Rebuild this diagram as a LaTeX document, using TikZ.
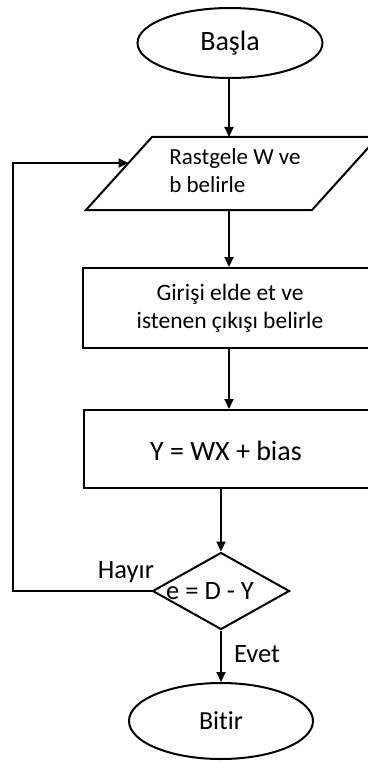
\documentclass[tikz,border=0pt]{standalone}
\usepackage{fontspec}
\setmainfont{Carlito}[Ligatures=NoCommon]
\usetikzlibrary{shapes.geometric,arrows.meta}
\newcommand{\fs}[1]{\fontsize{#1}{28}\selectfont}
\begin{document}
\begin{tikzpicture}[x=1pt,y=-1pt,
  line width=2pt,
  arr/.style={-{Triangle[length=10pt,width=9pt]}},
  term/.style={draw,ellipse,inner sep=0pt},
  box/.style={draw,rectangle,inner sep=0pt},
  dia/.style={draw,diamond,inner sep=0pt},
  lbl/.style={inner sep=0pt}]
\useasboundingbox (0,0) rectangle (367,762);
% start
\node[term,minimum width=185pt,minimum height=70pt,font=\fs{28}] (start) at (230,43) {Başla};
% parallelogram
\coordinate (pA) at (152,137);
\coordinate (pB) at (378,137);
\coordinate (pC) at (312,210);
\coordinate (pD) at (86,210);
\draw (pA) -- (pB) -- (pC) -- (pD) -- cycle;
\coordinate (ptop) at (229,137);
\coordinate (pbot) at (229,210);
\coordinate (pleft) at (128.5,163);
\node[anchor=west,align=left,font=\fs{23}] (ptext) at (165,171) {Rastgele W ve\\b belirle};
% rect 1
\node[box,minimum width=294pt,minimum height=80pt,align=center,font=\fs{23.5}] (r1) at (230,308) {Girişi elde et ve\\istenen çıkışı belirle};
% rect 2
\node[box,minimum width=292pt,minimum height=78pt] (r2) at (230,449) {};
\node[font=\fs{28}] (r2t) at (226,451) {Y = WX + bias};
% diamond
\node[dia,minimum width=137pt,minimum height=77pt] (d) at (221,591) {};
\node[font=\fs{26.5}] (dt) at (210,591) {e = D - Y};
% end
\node[term,minimum width=184pt,minimum height=76pt,font=\fs{26}] (end) at (221,721) {Bitir};
% arrows
\draw[arr] (start.south -| ptop) -- (ptop);
\draw[arr] (pbot) -- (r1.north -| pbot);
\draw[arr] (r1.south -| pbot) -- (r2.north -| pbot);
\draw[arr] (r2.south -| d.north) -- (d.north);
\draw[arr] (d.south) -- (end.north) node[pos=0.45,right=12pt,lbl,font=\fs{26.5}] (evet) {Evet};
\coordinate (c1) at (13,591);
\coordinate (c2) at (13,163);
\draw[arr] (d.west) -- (c1) -- (c2) -- (pleft);
\node[lbl,font=\fs{26.5}] (hayir) at (126,572) {Hayır};
\end{tikzpicture}
\end{document}
